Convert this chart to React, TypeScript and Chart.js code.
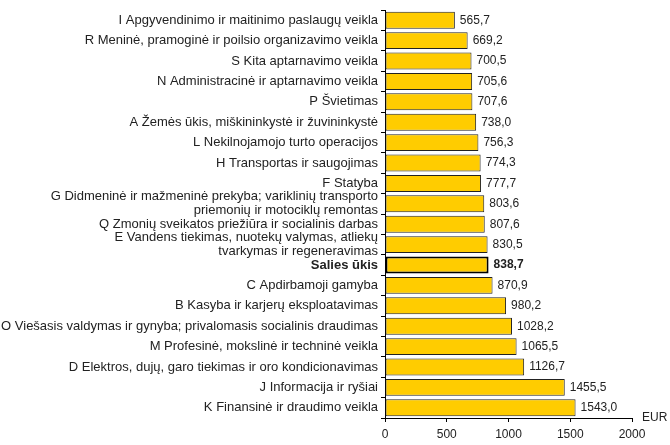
import React, { useEffect, useRef } from "react";
import { Chart, registerables } from "chart.js";

Chart.register(...registerables);

const categories: (string | string[])[] = [
  "I Apgyvendinimo ir maitinimo paslaugų veikla",
  "R Meninė, pramoginė ir poilsio organizavimo veikla",
  "S Kita aptarnavimo veikla",
  "N Administracinė ir aptarnavimo veikla",
  "P Švietimas",
  "A Žemės ūkis, miškininkystė ir žuvininkystė",
  "L Nekilnojamojo turto operacijos",
  "H Transportas ir saugojimas",
  "F Statyba",
  ["G Didmeninė ir mažmeninė prekyba; variklinių transporto", "priemonių ir motociklų remontas"],
  "Q Zmonių sveikatos priežiūra ir socialinis darbas",
  ["E Vandens tiekimas, nuotekų valymas, atliekų", "tvarkymas ir regeneravimas"],
  "Salies ūkis",
  "C Apdirbamoji gamyba",
  "B Kasyba ir karjerų eksploatavimas",
  "O Viešasis valdymas ir gynyba; privalomasis socialinis draudimas",
  "M Profesinė, mokslinė ir techninė veikla",
  "D Elektros, dujų, garo tiekimas ir oro kondicionavimas",
  "J Informacija ir ryšiai",
  "K Finansinė ir draudimo veikla",
];

const values: number[] = [
  565.7, 669.2, 700.5, 705.6, 707.6, 738.0, 756.3, 774.3, 777.7, 803.6,
  807.6, 830.5, 838.7, 870.9, 980.2, 1028.2, 1065.5, 1126.7, 1455.5, 1543.0,
];

const highlightIndex = 12;
const xTicks: number[] = [0, 500, 1000, 1500, 2000];
const unitLabel = "EUR";

const FONT = "'Liberation Sans', Arial, sans-serif";

export default function App() {
  const ref = useRef<HTMLCanvasElement | null>(null);

  useEffect(() => {
    if (!ref.current) return;
    const valuePlugin = {
      id: "valueLabels",
      afterDatasetsDraw(chart: any) {
        const ctx = chart.ctx;
        const meta = chart.getDatasetMeta(0);
        ctx.save();
        ctx.textBaseline = "middle";
        ctx.textAlign = "left";
        ctx.fillStyle = "#222";
        meta.data.forEach((bar: any, i: number) => {
          ctx.font = (i === highlightIndex ? "bold " : "") + "12px " + FONT;
          const txt = values[i].toFixed(1).replace(".", ",");
          ctx.fillText(txt, bar.x + 5, bar.y);
        });
        const xs = chart.scales.x;
        ctx.font = "12px " + FONT;
        ctx.fillText(unitLabel, xs.right + 10, xs.top);
        ctx.restore();
      },
    };

    const chart = new Chart(ref.current, {
      type: "bar",
      data: {
        labels: categories,
        datasets: [
          {
            data: values,
            backgroundColor: "#FFCC00",
            borderColor: values.map((_, i) => (i === highlightIndex ? "#000" : "#222")),
            borderWidth: values.map((_, i) => (i === highlightIndex ? 2 : 1)),
            borderSkipped: false,
            barPercentage: 0.83,
            categoryPercentage: 1,
          },
        ],
      },
      options: {
        indexAxis: "y",
        animation: false,
        responsive: false,
        layout: { padding: { top: 5, right: 38, left: 0, bottom: 0 } },
        plugins: { legend: { display: false }, tooltip: { enabled: false } },
        scales: {
          x: {
            min: 0,
            max: 2000,
            afterBuildTicks: (scale: any) => {
              scale.ticks = xTicks.map((v) => ({ value: v }));
            },
            afterFit: (scale: any) => {
              scale.height = 27;
            },
            grid: { drawOnChartArea: false, tickLength: 4, color: "#000" },
            border: { color: "#000", width: 1 },
            ticks: {
              color: "#222",
              font: { family: FONT, size: 12 },
              padding: 5,
              callback: (v: any) => String(v),
            },
          },
          y: {
            afterFit: (scale: any) => {
              scale.width = 385;
            },
            grid: { drawOnChartArea: false, offset: true, tickLength: 4, color: "#000" },
            border: { color: "#000", width: 1 },
            ticks: {
              color: "#222",
              autoSkip: false,
              padding: 3,
              font: (c: any) => ({
                family: FONT,
                size: 13,
                weight: c.index === highlightIndex ? "bold" : "normal",
                lineHeight: 1.08,
              }),
            },
          },
        },
      },
      plugins: [valuePlugin],
    });
    return () => chart.destroy();
  }, []);

  return (
    <div style={{ position: "absolute", left: 0, top: 0, width: 670, height: 445, background: "#fff" }}>
      <canvas ref={ref} width={670} height={445} />
    </div>
  );
}
